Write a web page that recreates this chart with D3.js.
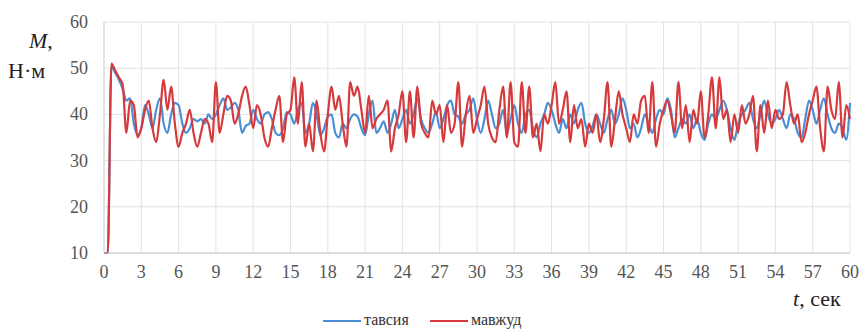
<!DOCTYPE html>
<html>
<head>
<meta charset="utf-8">
<script src="https://cdn.jsdelivr.net/npm/d3@7"></script>
</head>
<body style="margin:0">
<svg id="chart" width="860" height="329"></svg>
<script>
// Torque M (Н·м) over time t (сек), sampled every 0.3 s from 0 to 60 s
const sampleStep = 0.3;

const xTicks = [0, 3, 6, 9, 12, 15, 18, 21, 24, 27, 30, 33, 36, 39, 42, 45, 48, 51, 54, 57, 60];
const yTicks = [10, 20, 30, 40, 50, 60];

const seriesNames = ["тавсия", "мавжуд"];

// recommended ("тавсия")
const tavsiya = [
  10, 10, 50.5, 49, 47.5, 45.5, 43, 43.5, 38, 35.5,
  37, 42, 40, 37, 41, 43.5, 38, 36, 40, 42.5,
  42, 38, 36, 37, 39, 38.5, 39, 38, 40, 39,
  40, 42, 43.5, 41, 41.5, 42.5, 41, 36, 37.5, 38,
  41, 39, 38, 40, 40.5, 39, 36, 35.5, 37, 40.5,
  40, 38, 41, 42.5, 36, 38, 42.5, 40, 35.5, 37,
  39.5, 40, 36, 35, 38, 37, 39, 40, 39.5, 37,
  35.5, 40, 43, 36, 37, 38.5, 36, 38, 41, 37,
  39, 41, 38, 40, 43.5, 39, 37, 36, 38, 40.5,
  37, 39, 42, 43, 40, 39.5, 38, 40, 41, 43.5,
  39, 36, 39, 43, 40, 37, 38, 41, 36, 39,
  42, 38, 36, 40, 41, 37, 35, 38, 40, 42.5,
  41, 38, 36, 39, 37, 40, 38, 41, 42.5, 38,
  36, 37.5, 40, 38, 36, 39, 41, 38, 40, 43.5,
  41, 37, 38, 35, 37, 40, 38, 36, 39, 41,
  40, 43.5, 41, 35, 37, 39, 38, 40, 37, 39,
  36, 34.5, 38, 40, 39, 41, 43, 41, 37, 34.5,
  38, 40, 41, 42.5, 39, 37, 40, 43, 40, 38,
  39, 41, 39, 37, 40, 39, 36, 35, 39, 43,
  41, 38, 41, 43.5, 40, 37, 36, 38, 37, 34.5,
  42.5
];

// existing ("мавжуд")
const mavjud = [
  10, 10, 51, 49.5, 48, 46.5, 36, 43, 42, 35,
  37, 41, 43, 37, 34, 40, 47.5, 41, 46, 38,
  33, 36, 38, 41, 36, 33, 36, 39, 38, 34,
  47, 36, 40, 44, 43, 38, 40, 44, 46, 42,
  37, 42, 40, 35, 33, 37, 41, 44, 34, 40,
  41, 48, 38, 47, 33, 38, 32, 43, 36, 32,
  40, 46, 41, 44, 38, 33, 47, 44, 46, 41,
  36, 44, 37, 39, 40, 41, 43, 32, 37, 40,
  45, 34, 45, 35, 46, 38, 36, 35, 43, 40,
  42, 34, 42, 36, 38, 47, 33, 40, 44, 36,
  39, 42, 46, 38, 35, 34, 41, 46, 35, 47,
  34, 33, 47, 36, 46, 35, 38, 32, 40, 38,
  42, 47, 38, 41, 45, 34, 42, 37, 39, 33,
  38, 36, 40, 34, 39, 47, 33, 39, 45, 40,
  37, 34, 40, 38, 43, 44, 36, 47, 33, 38,
  41, 43, 40, 36, 47, 37, 42, 34, 41, 38,
  45, 35, 40, 48, 37, 48, 39, 41, 34, 40,
  36, 42, 38, 40, 44, 32, 42, 36, 43, 37,
  41, 39, 40, 47, 42, 38, 40, 34, 36, 40,
  43, 46, 37, 32, 46, 41, 39, 47, 35, 42,
  39
];

const colors = ["#4a8fd6", "#d63a3c"];
const serif = "serif";

const svg = d3.select("#chart");
const plot = { left: 104, right: 850, top: 22, bottom: 253 };

const x = d3.scaleLinear().domain([0, 60]).range([plot.left, plot.right]);
const y = d3.scaleLinear().domain([10, 60]).range([plot.bottom, plot.top]);

// grid
const grid = svg.append("g");
grid.selectAll("line.v").data(xTicks).join("line")
  .attr("x1", d => x(d)).attr("x2", d => x(d))
  .attr("y1", plot.top).attr("y2", plot.bottom)
  .attr("stroke", "#e2e2e2").attr("stroke-width", 1);
grid.selectAll("line.h").data(yTicks).join("line")
  .attr("x1", plot.left).attr("x2", plot.right)
  .attr("y1", d => y(d)).attr("y2", d => y(d))
  .attr("stroke", "#e2e2e2").attr("stroke-width", 1);

// series lines
const line = d3.line()
  .x((d, i) => x(i * sampleStep))
  .y(d => y(d))
  .curve(d3.curveMonotoneX);

[tavsiya, mavjud].forEach((vals, k) => {
  svg.append("path")
    .datum(vals)
    .attr("fill", "none")
    .attr("stroke", colors[k])
    .attr("stroke-width", 2.2)
    .attr("stroke-linejoin", "round")
    .attr("d", line);
});

// axis lines from the scales' ranges
svg.append("line")
  .attr("x1", plot.left).attr("x2", plot.right)
  .attr("y1", y(yTicks[0])).attr("y2", y(yTicks[0]))
  .attr("stroke", "#c8c8c8");
svg.append("line")
  .attr("x1", x(0)).attr("x2", x(0))
  .attr("y1", plot.top).attr("y2", plot.bottom)
  .attr("stroke", "#d4d4d4");

// tick labels
svg.selectAll("text.xt").data(xTicks).join("text")
  .attr("x", d => x(d)).attr("y", plot.bottom + 25)
  .attr("text-anchor", "middle")
  .attr("font-family", serif).attr("font-size", 18).attr("fill", "#555")
  .text(d => d);
svg.selectAll("text.yt").data(yTicks).join("text")
  .attr("x", plot.left - 16).attr("y", d => y(d) + 6)
  .attr("text-anchor", "end")
  .attr("font-family", serif).attr("font-size", 18).attr("fill", "#555")
  .text(d => d);

// axis titles
const yt = svg.append("text").attr("font-size", 22).attr("fill", "#222").attr("font-family", serif);
yt.append("tspan").attr("x", 29).attr("y", 48).attr("font-style", "italic").text("M");
yt.append("tspan").attr("font-style", "normal").text(",");
svg.append("text").attr("x", 8).attr("y", 78).attr("font-size", 22).attr("fill", "#222")
  .attr("font-family", serif).text("Н·м");

const xt = svg.append("text").attr("x", 793).attr("y", 306).attr("font-size", 22).attr("fill", "#222")
  .attr("font-family", serif);
xt.append("tspan").attr("font-style", "italic").text("t");
xt.append("tspan").text(", сек");

// legend
const legendItems = [
  { x: 323, name: seriesNames[0], color: colors[0] },
  { x: 430, name: seriesNames[1], color: colors[1] }
];
legendItems.forEach(it => {
  svg.append("line")
    .attr("x1", it.x).attr("x2", it.x + 38)
    .attr("y1", 321).attr("y2", 321)
    .attr("stroke", it.color).attr("stroke-width", 2);
  svg.append("text")
    .attr("x", it.x + 41).attr("y", 325)
    .attr("font-size", 16).attr("fill", "#333")
    .attr("font-family", serif)
    .text(it.name);
});
</script>
</body>
</html>
